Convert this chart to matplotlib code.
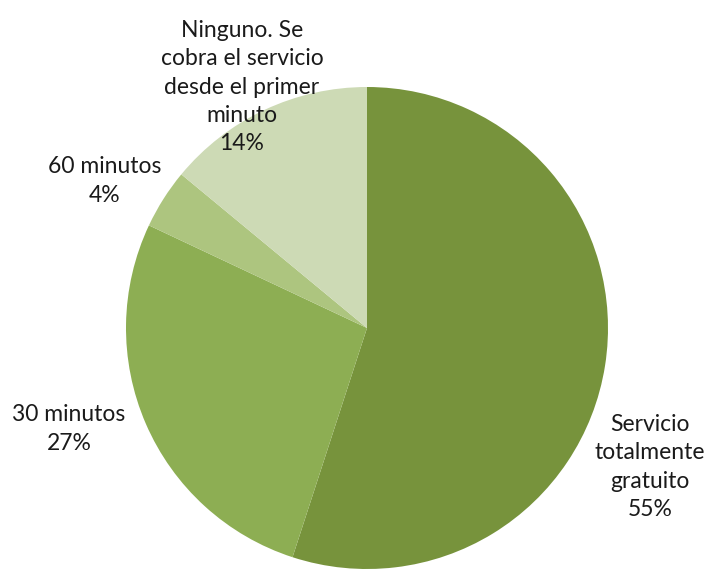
import matplotlib.pyplot as plt

# Categorías y porcentajes
categorias = ["Servicio\ntotalmente\ngratuito", "30 minutos", "60 minutos",
              "Ninguno. Se\ncobra el servicio\ndesde el primer\nminuto"]
valores = [55, 27, 4, 14]
colores = ["#77933C", "#8DAE53", "#ADC57F", "#CDDAB5"]

# posiciones de las etiquetas (en píxeles de la figura)
pos_etiquetas = [(650, 103), (69, 141), (105, 389), (242, 483)]

plt.rcParams["font.family"] = ["Lato", "DejaVu Sans"]

fig = plt.figure(figsize=(7.1, 5.7), dpi=100)
ax = fig.add_axes([0, 0, 1, 1])
ax.set_aspect("equal")
ax.axis("off")

ax.pie(valores, colors=colores, startangle=90, counterclock=False,
       center=(367, 242), radius=241, wedgeprops=dict(linewidth=0))

for cat, val, (x, y) in zip(categorias, valores, pos_etiquetas):
    ax.text(x, y, f"{cat}\n{val}%", ha="center", va="center",
            fontsize=16.5, color="#1a1a1a", linespacing=1.42)

ax.set_xlim(0, 710)
ax.set_ylim(0, 570)

fig.savefig("out.png", dpi=100)
